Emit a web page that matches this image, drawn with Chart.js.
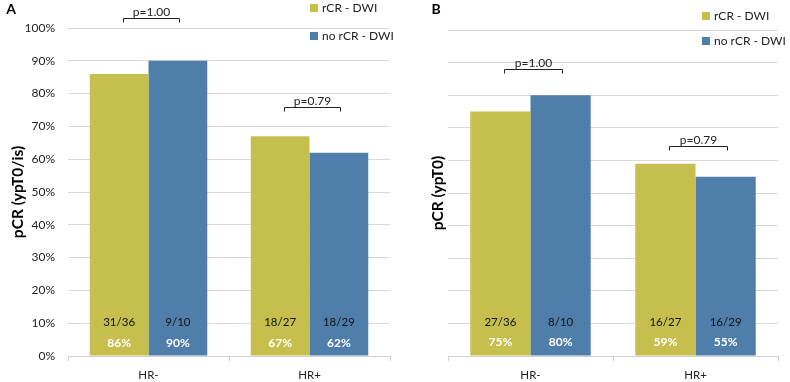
<!DOCTYPE html>
<html><head><meta charset="utf-8">
<script src="https://cdn.jsdelivr.net/npm/chart.js@4"></script>
<style>
html,body{margin:0;padding:0;background:#fff;}
#wrap{position:relative;width:790px;height:382px;}
canvas{position:absolute;top:0;}
</style></head>
<body><div id="wrap"><canvas id="a" width="395" height="382" style="left:0"></canvas><canvas id="b" width="395" height="382" style="left:395px"></canvas></div>
<script>
const categories = ['HR-', 'HR+'];
const seriesNames = ['rCR - DWI', 'no rCR - DWI'];
const colors = ['#C6BF4E', '#4F7EAB'];
// Panel A: pCR (ypT0/is)
const rcrA = [86, 67];
const noRcrA = [90, 62];
const fracRcrA = ['31/36', '18/27'];
const fracNoRcrA = ['9/10', '18/29'];
const pValuesA = ['p=1.00', 'p=0.79'];
const bracketLevelA = [103, 76];
// Panel B: pCR (ypT0)
const rcrB = [75, 59];
const noRcrB = [80, 55];
const fracRcrB = ['27/36', '16/27'];
const fracNoRcrB = ['8/10', '16/29'];
const pValuesB = ['p=1.00', 'p=0.79'];
const bracketLevelB = [88, 64.5];
const yTicks = [0,10,20,30,40,50,60,70,80,90,100];

const FONT = 'Lato, "Open Sans", sans-serif';

function makeChart(id, cfg) {
  const annot = {
    id: 'annot',
    afterDatasetsDraw(chart) {
      const ctx = chart.ctx;
      const y = chart.scales.y;
      const m0 = chart.getDatasetMeta(0), m1 = chart.getDatasetMeta(1);
      ctx.save();
      ctx.textAlign = 'center';
      ctx.textBaseline = 'middle';
      [m0, m1].forEach((m, di) => {
        m.data.forEach((bar, i) => {
          ctx.fillStyle = '#111';
          ctx.font = '11.5px ' + FONT;
          ctx.fillText(cfg.fracs[di][i], bar.x, y.getPixelForValue(cfg.fracLevel));
          ctx.fillStyle = '#fff';
          ctx.font = 'bold 12px ' + FONT;
          ctx.fillText(Math.round(chart.data.datasets[di].data[i]) + '%', bar.x, y.getPixelForValue(cfg.pctLevel));
        });
      });
      // significance brackets
      ctx.strokeStyle = '#222';
      ctx.lineWidth = 1;
      categories.forEach((c, i) => {
        const x1 = Math.round(m0.data[i].x + 4) + 0.5, x2 = Math.round(m1.data[i].x + 1) + 0.5;
        const yy = Math.round(y.getPixelForValue(cfg.brackets[i])) + 0.5;
        ctx.beginPath();
        ctx.moveTo(x1, yy + 4); ctx.lineTo(x1, yy); ctx.lineTo(x2, yy); ctx.lineTo(x2, yy + 4);
        ctx.stroke();
        ctx.fillStyle = '#222';
        ctx.font = '12px ' + FONT;
        ctx.fillText(cfg.pvals[i], (x1 + x2) / 2, yy - 6);
      });
      // legend
      chart.data.datasets.forEach((ds, di) => {
        const ly = cfg.legendY[di];
        ctx.fillStyle = ds.backgroundColor;
        ctx.fillRect(cfg.legendX, ly - 4, 8, 8);
        ctx.fillStyle = '#222';
        ctx.textAlign = 'left';
        ctx.font = '12px ' + FONT;
        ctx.fillText(ds.label, cfg.legendX + 12, ly);
      });
      // panel letter
      ctx.textAlign = 'center';
      ctx.fillStyle = '#000';
      ctx.font = 'bold 14px ' + FONT;
      ctx.fillText(cfg.letter, cfg.letterX, cfg.letterY);
      ctx.restore();
    }
  };
  return new Chart(document.getElementById(id), {
    type: 'bar',
    data: {
      labels: categories,
      datasets: [
        { label: seriesNames[0], data: cfg.s0, backgroundColor: colors[0] },
        { label: seriesNames[1], data: cfg.s1, backgroundColor: colors[1] }
      ]
    },
    options: {
      responsive: false,
      animation: false,
      devicePixelRatio: 1,
      layout: { padding: cfg.padding },
      datasets: { bar: { categoryPercentage: 0.73, barPercentage: 1.0 } },
      plugins: { legend: { display: false }, tooltip: { enabled: false } },
      scales: {
        x: {
          grid: { display: true, drawOnChartArea: false, drawTicks: true, tickLength: 5, color: '#d0d0d0', offset: true },
          border: { display: true, color: '#d0d0d0' },
          ticks: { color: '#222', font: { size: 11.5, family: FONT }, padding: 7 },
          afterFit(s) { s.height = 26; }
        },
        y: {
          min: 0, max: 100,
          afterBuildTicks(s) { s.ticks = yTicks.map(v => ({ value: v })); },
          grid: { color: '#d9d9d9', drawTicks: false },
          border: { display: false },
          ticks: { display: cfg.showTicks, padding: 13, color: '#222', font: { size: 12, family: FONT }, callback: v => v + '%' },
          title: { display: true, text: cfg.title, color: '#000', font: { size: 15.5, weight: 'bold', family: FONT }, padding: { top: cfg.titlePad, bottom: 0 } },
          afterFit(s) { s.width = cfg.yWidth; }
        }
      }
    },
    plugins: [annot]
  });
}

makeChart('a', {
  s0: rcrA, s1: noRcrA, fracs: [fracRcrA, fracNoRcrA], pvals: pValuesA, brackets: bracketLevelA,
  title: 'pCR (ypT0/is)', showTicks: true, titlePad: 9, yWidth: 68,
  padding: { left: 0, right: 5, top: 28, bottom: 0 },
  fracLevel: 10.2, pctLevel: 4, legendX: 310, legendY: [8, 36], letter: 'A', letterX: 11, letterY: 9
});
makeChart('b', {
  s0: rcrB, s1: noRcrB, fracs: [fracRcrB, fracNoRcrB], pvals: pValuesB, brackets: bracketLevelB,
  title: 'pCR (ypT0)', showTicks: false, titlePad: 3, yWidth: 22,
  padding: { left: 31, right: 12, top: 30, bottom: 0 },
  fracLevel: 10.3, pctLevel: 4.3, legendX: 307, legendY: [16, 41], letter: 'B', letterX: 41, letterY: 9
});
</script></body></html>
